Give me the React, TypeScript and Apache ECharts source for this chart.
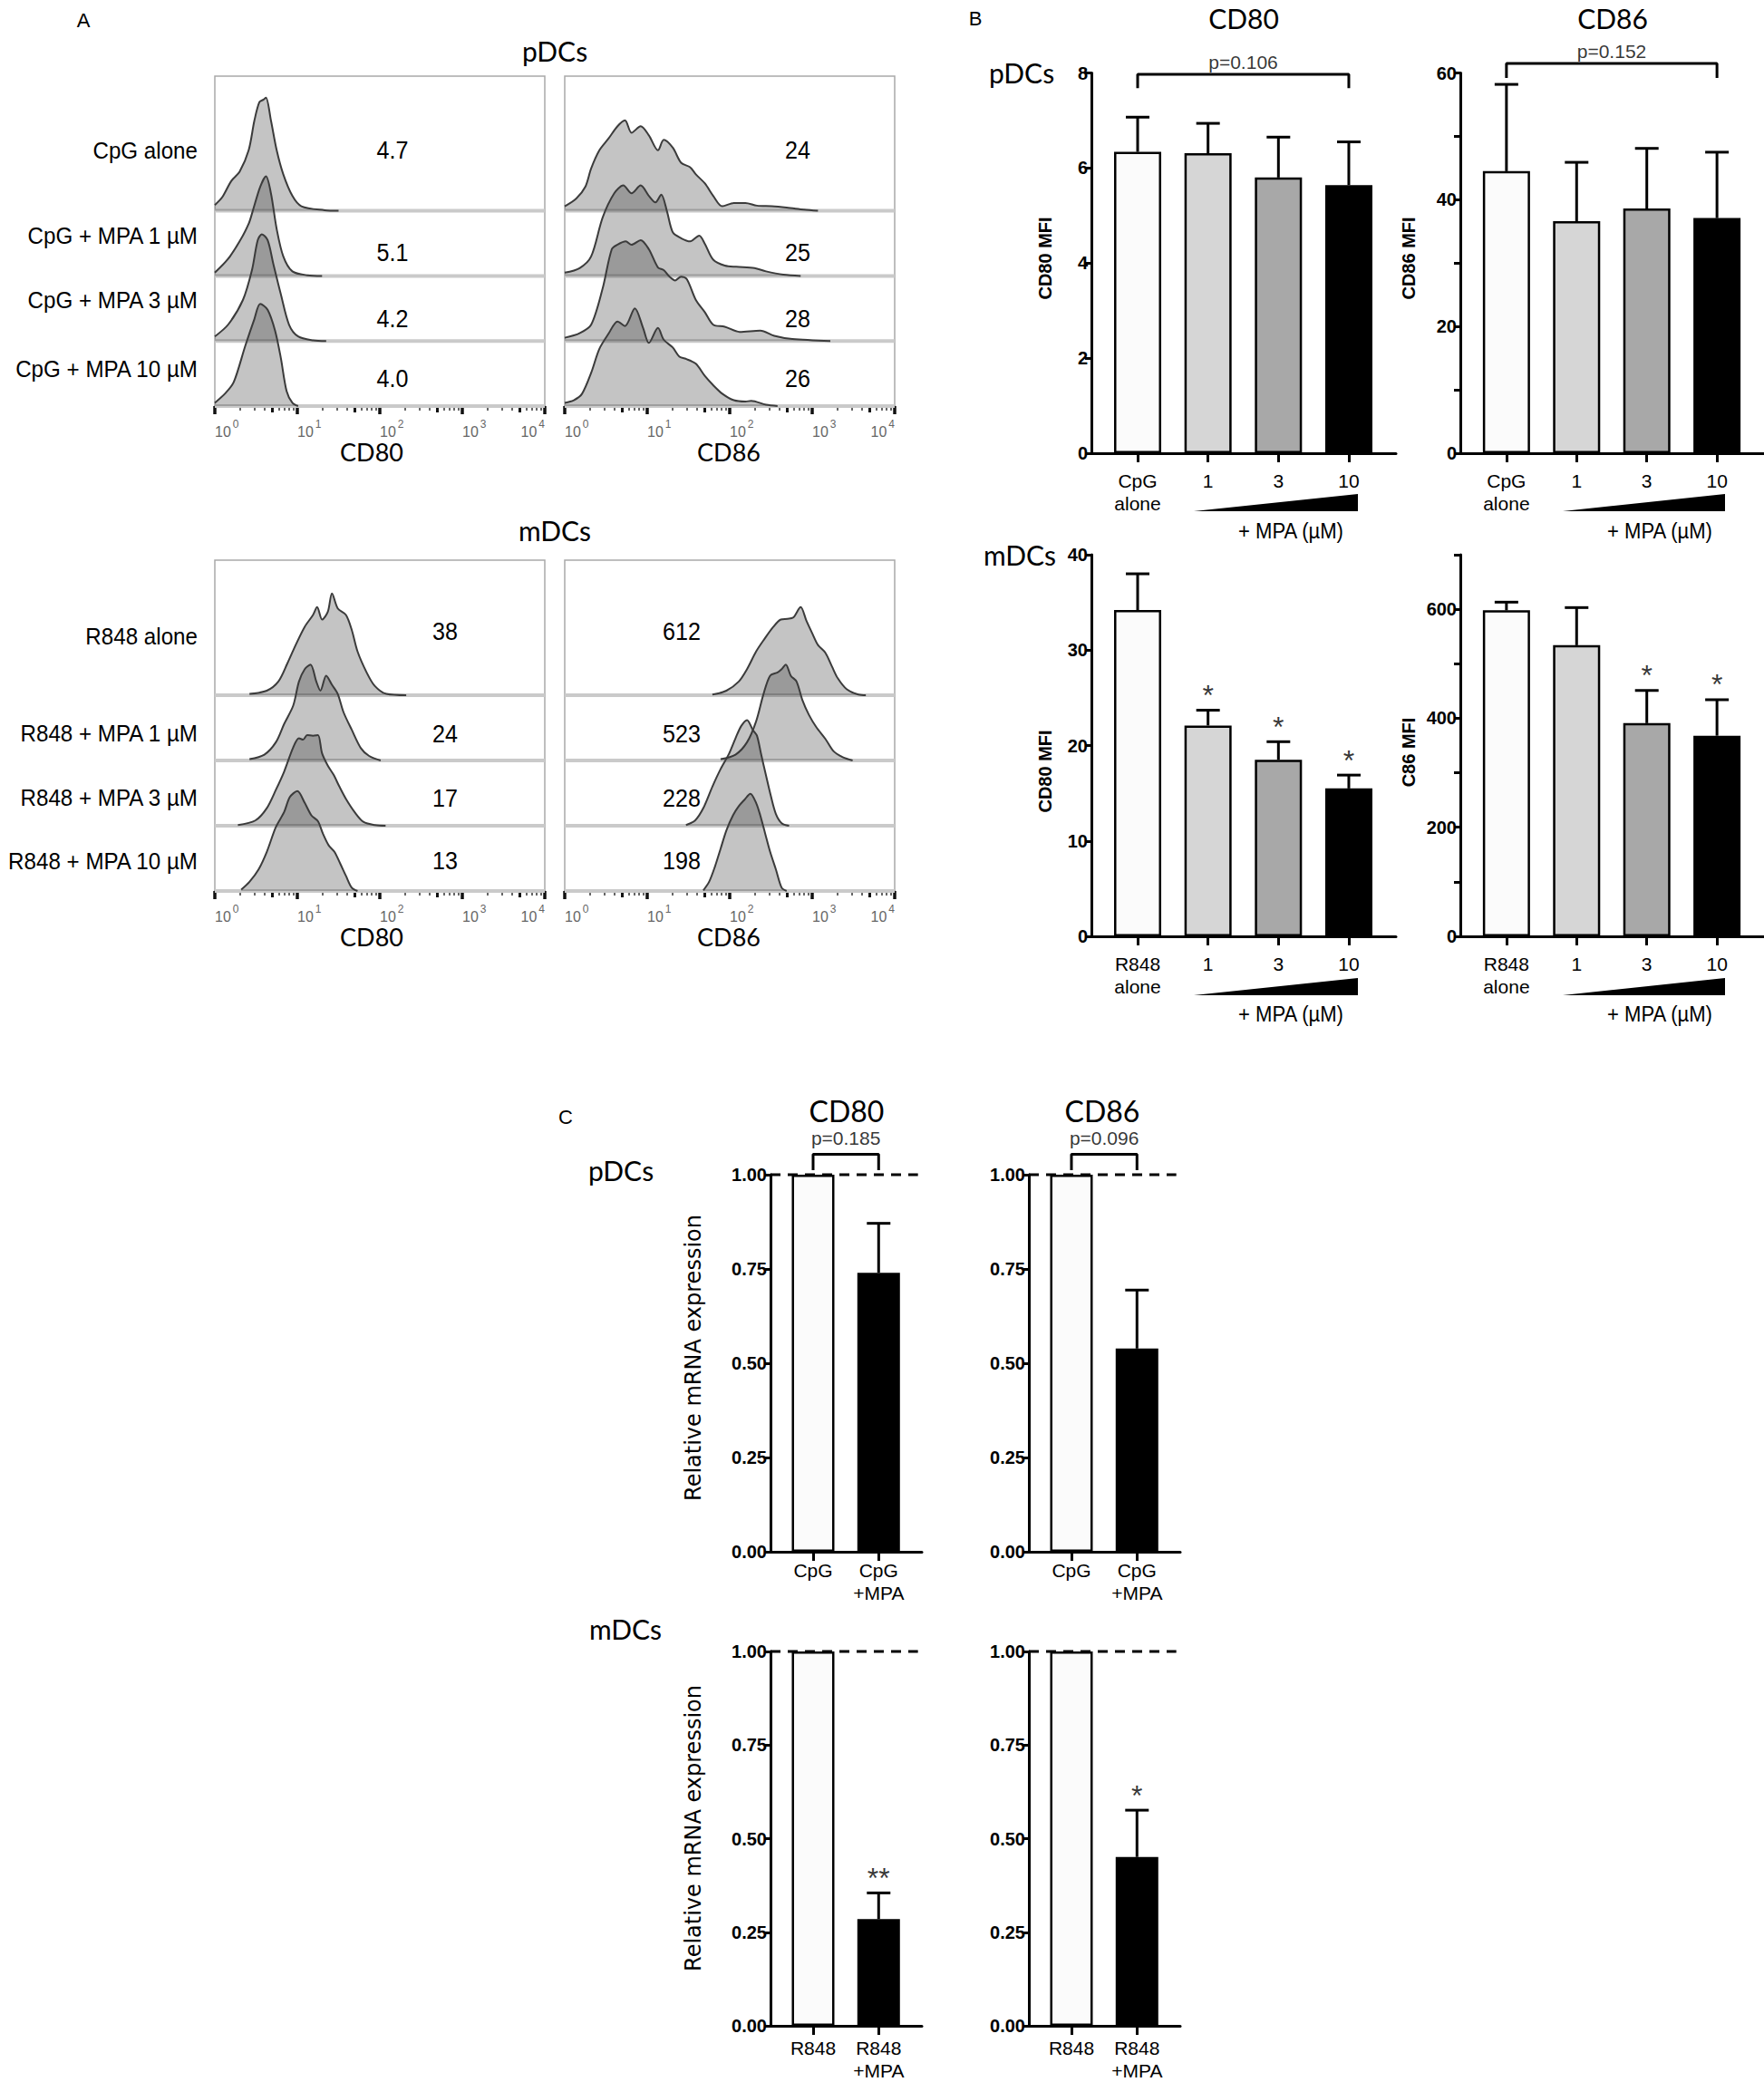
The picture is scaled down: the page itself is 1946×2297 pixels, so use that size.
import React, { useEffect, useRef } from "react";
import * as echarts from "echarts";

// ================= DATA =================
// Panel A – flow cytometry histograms: [log10 fluorescence, height in row units]
const pdcRows = ["CpG alone", "CpG + MPA 1 µM", "CpG + MPA 3 µM", "CpG + MPA 10 µM"];
const mdcRows = ["R848 alone", "R848 + MPA 1 µM", "R848 + MPA 3 µM", "R848 + MPA 10 µM"];
const pdcCD80Mfi = ["4.7", "5.1", "4.2", "4.0"];
const pdcCD86Mfi = ["24", "25", "28", "26"];
const mdcCD80Mfi = ["38", "24", "17", "13"];
const mdcCD86Mfi = ["612", "523", "228", "198"];
const decadeTicks = [0, 1, 2, 3, 4];
const decadeExponents = ["0", "1", "2", "3", "4"];

const pdcCD80Alone = [[0, 0.09], [0.09, 0.21], [0.2, 0.46], [0.3, 0.6], [0.41, 0.93], [0.48, 1.39], [0.54, 1.67], [0.59, 1.71], [0.62, 1.74], [0.68, 1.39], [0.75, 0.93], [0.83, 0.56], [0.94, 0.23], [1.05, 0.07], [1.33, 0.01], [1.5, 0]];
const pdcCD80Mpa1 = [[0, 0.05], [0.16, 0.26], [0.3, 0.53], [0.41, 0.8], [0.46, 1.0], [0.55, 1.37], [0.62, 1.53], [0.68, 1.27], [0.75, 0.72], [0.83, 0.3], [0.94, 0.07], [1.12, 0.01], [1.3, 0]];
const pdcCD80Mpa3 = [[0, 0.07], [0.16, 0.25], [0.34, 0.63], [0.45, 1.09], [0.52, 1.55], [0.57, 1.64], [0.64, 1.55], [0.71, 1.18], [0.8, 0.72], [0.9, 0.25], [1.01, 0.07], [1.19, 0.01], [1.35, 0]];
const pdcCD80Mpa10 = [[0, 0.05], [0.13, 0.2], [0.23, 0.37], [0.37, 0.93], [0.48, 1.34], [0.55, 1.57], [0.64, 1.48], [0.73, 1.16], [0.8, 0.74], [0.87, 0.23], [0.94, 0.05], [1.01, 0]];

const pdcCD86Alone = [[0, 0.07], [0.14, 0.19], [0.25, 0.37], [0.32, 0.65], [0.42, 0.93], [0.53, 1.11], [0.64, 1.3], [0.73, 1.39], [0.81, 1.2], [0.92, 1.3], [1.02, 1.16], [1.13, 0.93], [1.2, 1.09], [1.31, 0.97], [1.41, 0.74], [1.52, 0.67], [1.59, 0.56], [1.7, 0.42], [1.8, 0.23], [1.91, 0.07], [2.05, 0.12], [2.19, 0.12], [2.33, 0.08], [2.51, 0.07], [2.69, 0.05], [2.9, 0.02], [3.07, 0]];
const pdcCD86Mpa1 = [[0, 0.05], [0.18, 0.12], [0.32, 0.3], [0.46, 0.9], [0.6, 1.27], [0.71, 1.39], [0.81, 1.27], [0.92, 1.39], [1.02, 1.23], [1.1, 1.13], [1.17, 1.25], [1.24, 0.99], [1.31, 0.67], [1.41, 0.58], [1.52, 0.53], [1.63, 0.62], [1.7, 0.49], [1.8, 0.25], [1.94, 0.16], [2.08, 0.14], [2.3, 0.12], [2.44, 0.07], [2.65, 0.02], [2.86, 0]];
const pdcCD86Mpa3 = [[0, 0.05], [0.18, 0.12], [0.32, 0.25], [0.46, 0.81], [0.57, 1.41], [0.64, 1.48], [0.74, 1.53], [0.81, 1.48], [0.92, 1.55], [1.02, 1.41], [1.13, 1.13], [1.2, 1.09], [1.27, 0.99], [1.34, 0.93], [1.41, 0.99], [1.48, 0.95], [1.59, 0.63], [1.7, 0.44], [1.8, 0.25], [1.94, 0.22], [2.12, 0.14], [2.37, 0.16], [2.54, 0.08], [2.76, 0.03], [3.22, 0]];
const pdcCD86Mpa10 = [[0, 0.05], [0.11, 0.09], [0.21, 0.19], [0.32, 0.51], [0.42, 0.88], [0.53, 1.11], [0.64, 1.3], [0.73, 1.23], [0.85, 1.5], [0.95, 1.2], [1.02, 0.97], [1.13, 1.2], [1.2, 1.02], [1.31, 0.9], [1.39, 0.76], [1.48, 0.72], [1.59, 0.65], [1.7, 0.46], [1.8, 0.32], [1.91, 0.19], [2.05, 0.09], [2.19, 0.07], [2.26, 0.08], [2.44, 0.02], [2.58, 0]];

const mdcCD80Alone = [[0.42, 0.02], [0.63, 0.07], [0.77, 0.21], [0.88, 0.49], [0.98, 0.77], [1.09, 1.05], [1.19, 1.23], [1.24, 1.35], [1.3, 1.16], [1.37, 1.28], [1.42, 1.56], [1.49, 1.33], [1.59, 1.23], [1.66, 1.0], [1.73, 0.67], [1.84, 0.35], [1.94, 0.14], [2.08, 0.02], [2.32, 0]];
const mdcCD80Mpa1 = [[0.42, 0.02], [0.6, 0.09], [0.74, 0.28], [0.84, 0.56], [0.95, 0.84], [1.02, 1.21], [1.09, 1.4], [1.16, 1.47], [1.23, 1.21], [1.28, 1.07], [1.35, 1.3], [1.42, 1.16], [1.49, 1.02], [1.56, 0.74], [1.66, 0.47], [1.77, 0.19], [1.87, 0.07], [2.01, 0]];
const mdcCD80Mpa3 = [[0.28, 0.01], [0.49, 0.08], [0.63, 0.27], [0.74, 0.55], [0.84, 0.83], [0.95, 1.2], [1.02, 1.34], [1.07, 1.32], [1.12, 1.39], [1.19, 1.38], [1.25, 1.39], [1.3, 1.11], [1.37, 0.92], [1.44, 0.78], [1.51, 0.6], [1.59, 0.41], [1.7, 0.2], [1.8, 0.06], [1.94, 0.01], [2.07, 0]];
const mdcCD80Mpa10 = [[0.32, 0.02], [0.42, 0.14], [0.53, 0.33], [0.63, 0.6], [0.74, 0.98], [0.84, 1.21], [0.91, 1.44], [1.0, 1.53], [1.09, 1.35], [1.17, 1.16], [1.25, 1.07], [1.31, 0.88], [1.38, 0.7], [1.45, 0.6], [1.52, 0.42], [1.59, 0.23], [1.66, 0.05], [1.73, 0]];

const mdcCD86Alone = [[1.79, 0.01], [1.96, 0.07], [2.11, 0.21], [2.21, 0.4], [2.32, 0.67], [2.42, 0.86], [2.53, 1.05], [2.62, 1.16], [2.7, 1.17], [2.77, 1.19], [2.86, 1.35], [2.93, 1.14], [3.0, 0.95], [3.07, 0.77], [3.16, 0.65], [3.24, 0.44], [3.31, 0.26], [3.42, 0.09], [3.56, 0.01], [3.65, 0]];
const mdcCD86Mpa1 = [[1.89, 0.02], [2.07, 0.09], [2.21, 0.28], [2.32, 0.6], [2.41, 1.02], [2.49, 1.3], [2.58, 1.35], [2.63, 1.4], [2.68, 1.47], [2.74, 1.3], [2.81, 1.21], [2.88, 0.93], [2.96, 0.7], [3.05, 0.51], [3.16, 0.33], [3.26, 0.14], [3.37, 0.05], [3.49, 0]];
const mdcCD86Mpa3 = [[1.47, 0.01], [1.58, 0.08], [1.68, 0.27], [1.79, 0.6], [1.89, 0.87], [1.99, 1.1], [2.07, 1.34], [2.14, 1.53], [2.21, 1.62], [2.28, 1.47], [2.33, 1.38], [2.38, 1.1], [2.44, 0.77], [2.5, 0.45], [2.56, 0.18], [2.63, 0.04], [2.72, 0]];
const mdcCD86Mpa10 = [[1.68, 0.01], [1.75, 0.14], [1.82, 0.37], [1.89, 0.65], [1.96, 0.93], [2.04, 1.16], [2.11, 1.3], [2.18, 1.4], [2.25, 1.49], [2.32, 1.35], [2.37, 1.16], [2.43, 0.88], [2.49, 0.6], [2.56, 0.33], [2.63, 0.05], [2.69, 0]];

// Panel B – MFI bar charts
const bCatsPdc = ["CpG\nalone", "1", "3", "10"];
const bCatsMdc = ["R848\nalone", "1", "3", "10"];
const pdcCD80Mean = [6.34, 6.31, 5.8, 5.64];
const pdcCD80Upper = [7.07, 6.94, 6.65, 6.55];
const pdcCD86Mean = [44.5, 36.6, 38.6, 37.1];
const pdcCD86Upper = [58.2, 45.9, 48.1, 47.5];
const mdcCD80Mean = [34.2, 22.1, 18.5, 15.5];
const mdcCD80Upper = [38.0, 23.7, 20.4, 16.9];
const mdcCD86Mean = [598, 534, 391, 368];
const mdcCD86Upper = [613, 603, 451, 434];
const noStars4 = ["", "", "", ""];
const mdcCD80Stars = ["", "*", "*", "*"];
const mdcCD86Stars = ["", "", "*", "*"];
const pdcCD80P = "p=0.106";
const pdcCD86P = "p=0.152";

// Panel C – relative mRNA expression
const cCatsPdc = ["CpG", "CpG\n+MPA"];
const cCatsMdc = ["R848", "R848\n+MPA"];
const cPdcCD80Mean = [1.0, 0.74];
const cPdcCD80Upper = [null, 0.871];
const cPdcCD86Mean = [1.0, 0.539];
const cPdcCD86Upper = [null, 0.694];
const cMdcCD80Mean = [1.0, 0.285];
const cMdcCD80Upper = [null, 0.355];
const cMdcCD86Mean = [1.0, 0.451];
const cMdcCD86Upper = [null, 0.576];
const cPdcStars = ["", ""];
const cMdcCD80Stars = ["", "**"];
const cMdcCD86Stars = ["", "*"];
const cPdcCD80P = "p=0.185";
const cPdcCD86P = "p=0.096";

// ================= STYLE / LAYOUT =================
const NARROW = "'Liberation Sans Narrow', 'Arial Narrow', 'Liberation Sans', sans-serif";
const ARIAL = "'Liberation Sans', Arial, sans-serif";
const HUMAN = "Lato, 'Open Sans', sans-serif";
const VERD = "'DejaVu Sans', sans-serif";
const BAR4 = ["#fbfbfb", "#d6d6d6", "#a8a8a8", "#000000"];
const BAR2 = ["#fbfbfb", "#000000"];
const A_W = 364;
const A_YMAX = 5.07;
const ROW_BASES = [3, 2, 1, 0];
const halfTicks = [0, 1, 2, 3].map((n) => n + Math.log10(5));
const minorTicks: number[] = [];
[0, 1, 2, 3].forEach((n) => [2, 3, 4, 6, 7, 8, 9].forEach((k) => minorTicks.push(n + Math.log10(k))));

function buildOption() {
  const grid: any[] = [];
  const xAxis: any[] = [];
  const yAxis: any[] = [];
  const series: any[] = [];
  const graphic: any[] = [];

  const histBox = (left: number, top: number, height: number, hists: number[][][]) => {
    const gi = grid.length;
    grid.push({ left, top, width: A_W, height, show: true, borderColor: "#a9a9a9", borderWidth: 1.5, backgroundColor: "rgba(0,0,0,0)" });
    const yi = yAxis.length;
    yAxis.push({ gridIndex: gi, type: "value", min: 0, max: A_YMAX, show: false });
    const xi = xAxis.length;
    const base = { gridIndex: gi, type: "value", min: 0, max: 4, position: "bottom", splitLine: { show: false } };
    xAxis.push({
      ...base,
      axisLine: { show: true, onZero: false, lineStyle: { color: "#7d7d7d", width: 1.5 } },
      axisTick: { show: true, customValues: decadeTicks, length: 9, lineStyle: { color: "#111", width: 3.5 } },
      axisLabel: {
        show: true, customValues: decadeTicks,
        formatter: (v: number) => "{b|10}{s|" + decadeExponents[Math.round(v)] + "}",
        align: "left", alignMaxLabel: "right", margin: 14, color: "#666", fontFamily: ARIAL,
        rich: {
          b: { fontSize: 16, color: "#666", fontFamily: ARIAL, lineHeight: 22, verticalAlign: "bottom" },
          s: { fontSize: 12, color: "#666", fontFamily: ARIAL, lineHeight: 22, verticalAlign: "top", padding: [0, 0, 0, 2] },
        },
      },
    });
    xAxis.push({ ...base, axisLine: { show: false }, axisLabel: { show: false }, axisTick: { show: true, customValues: halfTicks, length: 7, lineStyle: { color: "#111", width: 3 } } });
    xAxis.push({ ...base, axisLine: { show: false }, axisLabel: { show: false }, axisTick: { show: true, customValues: minorTicks, length: 5, lineStyle: { color: "#333", width: 1.5 } } });
    ROW_BASES.forEach((b) =>
      series.push({ type: "line", xAxisIndex: xi, yAxisIndex: yi, data: [[0, b], [4, b]], symbol: "none", lineStyle: { color: "#cacaca", width: 4 }, silent: true, z: 1 })
    );
    hists.forEach((h, r) =>
      series.push({
        type: "line", xAxisIndex: xi, yAxisIndex: yi, data: h.map(([x, v]) => [x, ROW_BASES[r] + v]),
        smooth: 0.3, symbol: "none", lineStyle: { color: "#3b3b3b", width: 2 },
        areaStyle: { color: "rgba(55,55,55,0.42)", origin: ROW_BASES[r] }, z: 3 + r, silent: true,
      })
    );
  };

  const barChart = (cfg: any) => {
    const gi = grid.length;
    grid.push({ left: cfg.left, top: cfg.top, width: cfg.width, height: cfg.height });
    const yi = yAxis.length;
    yAxis.push({
      gridIndex: gi, type: "value", min: 0, max: cfg.max, interval: cfg.interval,
      axisLine: { show: true, onZero: false, lineStyle: { color: "#000", width: 3 } },
      axisTick: { show: true, length: 7, lineStyle: { color: "#000", width: 3 } },
      axisLabel: { formatter: cfg.yFmt, margin: 4, color: "#000", fontSize: 20, fontWeight: "bold", fontFamily: ARIAL },
      splitLine: { show: false },
    });
    const xi = xAxis.length;
    const idx = cfg.cats.map((_: any, i: number) => i);
    xAxis.push({
      gridIndex: gi, type: "value", min: cfg.xMin, max: cfg.xMax, position: "bottom",
      axisLine: { show: true, onZero: false, lineStyle: { color: "#000", width: 3 } },
      axisTick: { show: true, customValues: idx, length: 10, lineStyle: { color: "#000", width: 3 } },
      axisLabel: {
        show: true, customValues: idx, formatter: (v: number) => cfg.cats[Math.round(v)],
        margin: cfg.labelMargin, fontSize: 21, lineHeight: 25, color: "#000", fontFamily: NARROW,
      },
      splitLine: { show: false },
    });
    series.push({
      type: "bar", xAxisIndex: xi, yAxisIndex: yi, barWidth: cfg.barWidth, silent: true, z: 2,
      data: cfg.means.map((m: number, i: number) => ({ value: [i, m], itemStyle: { color: cfg.colors[i] } })),
      itemStyle: { borderColor: "#000", borderWidth: 2.5 },
    });
    series.push({
      type: "custom", xAxisIndex: xi, yAxisIndex: yi, clip: false, silent: true, z: 3,
      encode: { x: 0, y: [1, 2] },
      data: cfg.means.map((m: number, i: number) => [i, m, cfg.uppers[i]]).filter((d: any[]) => d[2] != null),
      renderItem: (_p: any, api: any) => {
        const x = api.value(0);
        const p0 = api.coord([x, api.value(1)]);
        const p1 = api.coord([x, api.value(2)]);
        const half = 13;
        const st = { stroke: "#000", lineWidth: 3 };
        return {
          type: "group",
          children: [
            { type: "line", shape: { x1: p0[0], y1: p0[1], x2: p1[0], y2: p1[1] }, style: st },
            { type: "line", shape: { x1: p1[0] - half, y1: p1[1], x2: p1[0] + half, y2: p1[1] }, style: st },
          ],
        };
      },
    });
    const starData = cfg.stars
      .map((s: string, i: number) => ({ name: s, value: [i, cfg.uppers[i] ?? cfg.means[i]] }))
      .filter((d: any) => d.name !== "");
    if (starData.length) {
      series.push({
        type: "scatter", xAxisIndex: xi, yAxisIndex: yi, symbolSize: 1, silent: true, z: 4,
        itemStyle: { color: "rgba(0,0,0,0)" }, data: starData,
        label: { show: true, position: "top", distance: cfg.starDist, formatter: "{b}", fontSize: 32, color: "#000", fontFamily: ARIAL },
      });
    }
    if (cfg.dashed) {
      series.push({
        type: "line", xAxisIndex: xi, yAxisIndex: yi, data: [[cfg.xMin, 1], [cfg.dashEnd, 1]], symbol: "none", silent: true, z: 5, clip: false,
        lineStyle: { color: "#000", width: 3, type: [11, 8] },
      });
    }
    if (cfg.bracket) {
      const b = cfg.bracket;
      series.push({
        type: "line", xAxisIndex: xi, yAxisIndex: yi, symbol: "none", silent: true, clip: false, z: 5,
        data: [[b.x0, b.lo], [b.x0, b.hi], [b.x1, b.hi], [b.x1, b.lo]], lineStyle: { color: "#000", width: 3 },
      });
      series.push({
        type: "scatter", xAxisIndex: xi, yAxisIndex: yi, symbolSize: 1, silent: true, clip: false, z: 5,
        itemStyle: { color: "rgba(0,0,0,0)" }, data: [{ name: b.text, value: [(b.x0 + b.x1) / 2, b.hi] }],
        label: { show: true, position: "top", distance: b.dist, formatter: "{b}", fontSize: 21, color: "#000", fontFamily: NARROW },
      });
    }
  };

  // ---------- Panel A ----------
  histBox(237, 84, 364, [pdcCD80Alone, pdcCD80Mpa1, pdcCD80Mpa3, pdcCD80Mpa10]);
  histBox(623, 84, 364, [pdcCD86Alone, pdcCD86Mpa1, pdcCD86Mpa3, pdcCD86Mpa10]);
  histBox(237, 618, 365, [mdcCD80Alone, mdcCD80Mpa1, mdcCD80Mpa3, mdcCD80Mpa10]);
  histBox(623, 618, 365, [mdcCD86Alone, mdcCD86Mpa1, mdcCD86Mpa3, mdcCD86Mpa10]);

  // ---------- Panel B ----------
  const fmtEvery = (k: number) => (v: number) => (Math.round(v) % k === 0 ? String(v) : "");
  const bCommon = { width: 336, xMin: -0.657, xMax: 3.67, barWidth: 52, colors: BAR4, labelMargin: 18, starDist: 0 };
  barChart({ ...bCommon, left: 1204, top: 80.5, height: 419.5, max: 8, interval: 2, yFmt: fmtEvery(2), cats: bCatsPdc,
    means: pdcCD80Mean, uppers: pdcCD80Upper, stars: noStars4, bracket: { x0: 0, x1: 3, lo: 7.68, hi: 7.97, text: pdcCD80P, dist: 3 } });
  barChart({ ...bCommon, left: 1611, top: 80.5, height: 419.5, max: 60, interval: 10, yFmt: fmtEvery(20), cats: bCatsPdc,
    means: pdcCD86Mean, uppers: pdcCD86Upper, stars: noStars4, bracket: { x0: 0, x1: 3, lo: 59.2, hi: 61.5, text: pdcCD86P, dist: 3 } });
  barChart({ ...bCommon, left: 1204, top: 612, height: 421, max: 40, interval: 10, yFmt: fmtEvery(10), cats: bCatsMdc,
    means: mdcCD80Mean, uppers: mdcCD80Upper, stars: mdcCD80Stars });
  barChart({ ...bCommon, left: 1611, top: 612, height: 421, max: 700, interval: 100, yFmt: fmtEvery(200), cats: bCatsMdc,
    means: mdcCD86Mean, uppers: mdcCD86Upper, stars: mdcCD86Stars });

  // ---------- Panel C ----------
  const cCommon = { width: 167, xMin: -0.65, xMax: 1.66, barWidth: 47, colors: BAR2, max: 1, interval: 0.25,
    yFmt: (v: number) => v.toFixed(2), dashed: true, dashEnd: 1.6, starDist: 0 };
  barChart({ ...cCommon, left: 850, top: 1296, height: 416, cats: cCatsPdc, labelMargin: 8, means: cPdcCD80Mean,
    uppers: cPdcCD80Upper, stars: cPdcStars, bracket: { x0: 0, x1: 1, lo: 1.012, hi: 1.054, text: cPdcCD80P, dist: 7 } });
  barChart({ ...cCommon, left: 1135, top: 1296, height: 416, cats: cCatsPdc, labelMargin: 8, means: cPdcCD86Mean,
    uppers: cPdcCD86Upper, stars: cPdcStars, bracket: { x0: 0, x1: 1, lo: 1.012, hi: 1.054, text: cPdcCD86P, dist: 7 } });
  barChart({ ...cCommon, left: 850, top: 1822, height: 417, cats: cCatsMdc, labelMargin: 12, means: cMdcCD80Mean,
    uppers: cMdcCD80Upper, stars: cMdcCD80Stars });
  barChart({ ...cCommon, left: 1135, top: 1822, height: 417, cats: cCatsMdc, labelMargin: 12, means: cMdcCD86Mean,
    uppers: cMdcCD86Upper, stars: cMdcCD86Stars });

  // ---------- texts ----------
  const txt = (text: string, x: number, y: number, size: number, family: string, o: any = {}) =>
    graphic.push({
      type: "text", x, y, z: 100, rotation: o.rot ?? 0, scaleX: o.sx ?? 1, silent: true,
      style: { text, fontSize: size, fontFamily: family, fontWeight: o.weight ?? "normal", fill: "#000", align: o.align ?? "center", verticalAlign: "middle" },
    });
  const tri = (x0: number, x1: number, yb: number, yt: number) =>
    graphic.push({ type: "polygon", silent: true, z: 100, shape: { points: [[x0, yb], [x1, yb], [x1, yt]] }, style: { fill: "#000" } });

  // A
  txt("A", 92, 22, 22, ARIAL);
  txt("pDCs", 612, 56, 30, HUMAN);
  txt("mDCs", 612, 585, 30, HUMAN);
  const aTopLabelY = [166, 260, 331, 407];
  const aBotLabelY = [702, 809, 880, 950];
  const aTopNumY = [166, 279, 352, 418];
  const aBotNumY = [697, 810, 881, 950];
  const cond = { sx: 0.93 };
  pdcRows.forEach((s, i) => txt(s, 218, aTopLabelY[i], 26, NARROW, { align: "right", ...cond }));
  mdcRows.forEach((s, i) => txt(s, 218, aBotLabelY[i], 26, NARROW, { align: "right", ...cond }));
  pdcCD80Mfi.forEach((s, i) => txt(s, 433, aTopNumY[i], 27, NARROW, cond));
  pdcCD86Mfi.forEach((s, i) => txt(s, 880, aTopNumY[i], 27, NARROW, cond));
  mdcCD80Mfi.forEach((s, i) => txt(s, 491, aBotNumY[i], 27, NARROW, cond));
  mdcCD86Mfi.forEach((s, i) => txt(s, 752, aBotNumY[i], 27, NARROW, cond));
  txt("CD80", 410, 498, 27, HUMAN);
  txt("CD86", 804, 498, 27, HUMAN);
  txt("CD80", 410, 1033, 27, HUMAN);
  txt("CD86", 804, 1033, 27, HUMAN);

  // B
  txt("B", 1076, 20, 22, ARIAL);
  txt("CD80", 1372, 20, 30, HUMAN);
  txt("CD86", 1779, 20, 30, HUMAN);
  txt("pDCs", 1127, 80, 30, HUMAN);
  txt("mDCs", 1125, 612, 30, HUMAN);
  const R = Math.PI / 2;
  txt("CD80 MFI", 1153, 285, 20, ARIAL, { rot: R, weight: "bold" });
  txt("CD86 MFI", 1554, 285, 20, ARIAL, { rot: R, weight: "bold" });
  txt("CD80 MFI", 1153, 851, 20, ARIAL, { rot: R, weight: "bold" });
  txt("C86 MFI", 1554, 830, 20, ARIAL, { rot: R, weight: "bold" });
  tri(1317, 1498, 564, 545);
  tri(1724, 1903, 564, 545);
  tri(1317, 1498, 1098, 1079);
  tri(1724, 1903, 1098, 1079);
  const condB = { sx: 0.96 };
  txt("+ MPA (µM)", 1424, 586, 23, NARROW, condB);
  txt("+ MPA (µM)", 1831, 586, 23, NARROW, condB);
  txt("+ MPA (µM)", 1424, 1119, 23, NARROW, condB);
  txt("+ MPA (µM)", 1831, 1119, 23, NARROW, condB);

  // C
  txt("C", 624, 1232, 22, ARIAL);
  txt("CD80", 934, 1225, 32, HUMAN);
  txt("CD86", 1216, 1225, 32, HUMAN);
  txt("pDCs", 685, 1291, 30, HUMAN);
  txt("mDCs", 690, 1797, 30, HUMAN);
  txt("Relative mRNA expression", 765, 1498, 24, VERD, { rot: R });
  txt("Relative mRNA expression", 765, 2017, 24, VERD, { rot: R });

  return {
    animation: false,
    backgroundColor: "#ffffff",
    textStyle: { fontFamily: ARIAL },
    grid, xAxis, yAxis, series, graphic,
  };
}

export default function App() {
  const ref = useRef<HTMLDivElement>(null);
  useEffect(() => {
    if (!ref.current) return;
    const chart = echarts.init(ref.current, undefined, { renderer: "svg" });
    chart.setOption(buildOption() as any);
    return () => chart.dispose();
  }, []);
  return (
    <div
      ref={ref}
      style={{ position: "absolute", left: 0, top: 0, width: 1946, height: 2297, background: "#fff" }}
    />
  );
}
